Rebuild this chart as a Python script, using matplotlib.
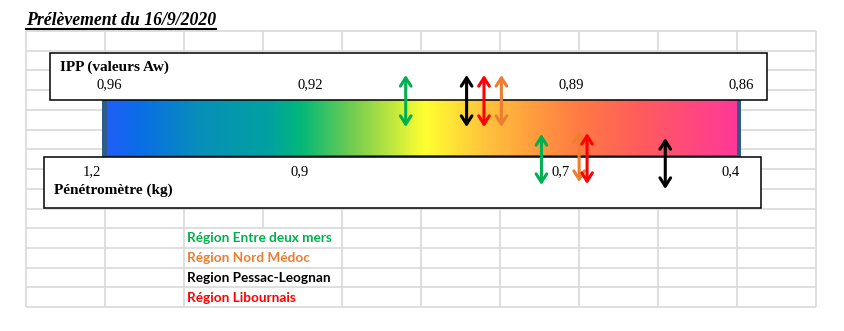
import numpy as np
import matplotlib.pyplot as plt
from matplotlib.colors import LinearSegmentedColormap
from matplotlib.patches import Rectangle

# sample date and scales
title = 'Prélèvement du 16/9/2020'
ipp_ticks = [0.96, 0.92, 0.89, 0.86]
ipp_labels = ['0,96', '0,92', '0,89', '0,86']
pen_ticks = [1.2, 0.9, 0.7, 0.4]
pen_labels = ['1,2', '0,9', '0,7', '0,4']

# one reading per region
regions = ['Région Entre deux mers', 'Région Nord Médoc', 'Region Pessac-Leognan', 'Région Libournais']
region_colors = ['#00B050', '#ED7D31', '#000000', '#FF0000']
ipp_aw = [0.909, 0.898, 0.902, 0.900]
pen_kg = [0.715, 0.668, 0.516, 0.654]

W, H = 845, 331
# where the tick labels sit along the bar (pixels)
ipp_px = np.array([109, 310, 571, 741])
pen_px = np.array([92, 300, 561, 731])

serif = 'Liberation Serif'
grid_c = '#D9D9D9'

fig = plt.figure(figsize=(W / 100, H / 100), dpi=100)
ax = fig.add_axes([0, 0, 1, 1])
ax.set_xlim(0, W)
ax.set_ylim(H, 0)
ax.axis('off')

# spreadsheet grid
col_x = [26 + 79 * i for i in range(11)]
row_y = [31 + 19.73 * i for i in range(15)]
for x in col_x:
    y_end = 228 if x == 263 else 307
    ax.plot([x, x], [31, y_end], color=grid_c, lw=1.2, zorder=1, solid_capstyle='butt')
for y in row_y:
    ax.plot([26, 816], [y, y], color=grid_c, lw=1.2, zorder=1, solid_capstyle='butt')

# title, underlined
t = ax.text(26, 25, title, fontfamily=serif, fontweight='bold', fontstyle='italic',
            fontsize=12.8, va='baseline', ha='left', zorder=4)
fig.canvas.draw()
bb = t.get_window_extent().transformed(ax.transData.inverted())
ax.plot([bb.x0, bb.x1], [29.2, 29.2], color='black', lw=1.5, zorder=4)

# gradient bar
stops = [(0.0, '#1E5FF8'), (0.052, '#0A6EE6'), (0.148, '#0890B8'), (0.259, '#00A2A0'),
         (0.306, '#00B878'), (0.394, '#78CE4E'), (0.505, '#FFFF30'), (0.592, '#FFC83C'),
         (0.671, '#FFA03E'), (0.751, '#FF7A44'), (0.846, '#FF5C5C'), (1.0, '#FF3898')]
cmap = LinearSegmentedColormap.from_list('aw', stops)
ax.add_patch(Rectangle((102, 95), 639, 62, fc='#2E5C88', ec='none', zorder=2))
grad = np.linspace(0, 1, 512).reshape(1, -1)
ax.imshow(grad, cmap=cmap, extent=(107, 737, 155, 95), aspect='auto',
          interpolation='bilinear', zorder=2.5)
ax.set_xlim(0, W)
ax.set_ylim(H, 0)

# label boxes
ax.add_patch(Rectangle((50, 53), 717, 46.5, fc='white', ec='black', lw=1.1, zorder=3))
ax.add_patch(Rectangle((44, 157), 717, 51, fc='white', ec='black', lw=1.1, zorder=3))
ax.text(60, 67, 'IPP (valeurs Aw)', fontfamily=serif, fontweight='bold', fontsize=11,
        va='center', ha='left', zorder=4)
ax.text(54, 190, 'Pénétromètre (kg)', fontfamily=serif, fontweight='bold', fontsize=11,
        va='center', ha='left', zorder=4)


def scaled_axes(vals, px):
    a = fig.add_axes([px[0] / W, 0, (px[-1] - px[0]) / W, 1])
    v = np.array(vals)
    fwd = lambda x: np.interp(-np.asarray(x), -v, px)
    inv = lambda p: np.interp(np.asarray(p), px, v)
    a.set_xscale('function', functions=(fwd, inv))
    a.set_xlim(vals[-1], vals[0])
    a.set_ylim(H, 0)
    a.axis('off')
    a.patch.set_visible(False)
    return a


ax_ipp = scaled_axes(ipp_ticks, ipp_px)
ax_pen = scaled_axes(pen_ticks, pen_px)

for v, lab in zip(ipp_ticks, ipp_labels):
    ax_ipp.text(v, 85, lab, fontfamily=serif, fontsize=10.5, ha='center', va='center', clip_on=False)
for v, lab in zip(pen_ticks, pen_labels):
    ax_pen.text(v, 172, lab, fontfamily=serif, fontsize=10.5, ha='center', va='center', clip_on=False)

# double arrows: IPP above the bar, penetrometer below
pen_shift = [0, -3, 4, -1]
astyle = '<->,head_length=0.5,head_width=0.32'
for v, c in zip(ipp_aw, region_colors):
    ax_ipp.annotate('', xy=(v, 75), xytext=(v, 127),
                    arrowprops=dict(arrowstyle=astyle, color=c, lw=2.2, mutation_scale=12,
                                    shrinkA=0, shrinkB=0), annotation_clip=False)
for v, c, s in zip(pen_kg, region_colors, pen_shift):
    ax_pen.annotate('', xy=(v, 134 + s), xytext=(v, 185 + s),
                    arrowprops=dict(arrowstyle=astyle, color=c, lw=2.2, mutation_scale=12,
                                    shrinkA=0, shrinkB=0), annotation_clip=False)

# region key
for i, (name, c) in enumerate(zip(regions, region_colors)):
    ax.text(187, 238.5 + 19.73 * i, name, color=c, fontfamily='Lato', fontweight='bold',
            fontsize=9.8, va='center', ha='left', zorder=4)

fig.savefig('out.png', dpi=100)
